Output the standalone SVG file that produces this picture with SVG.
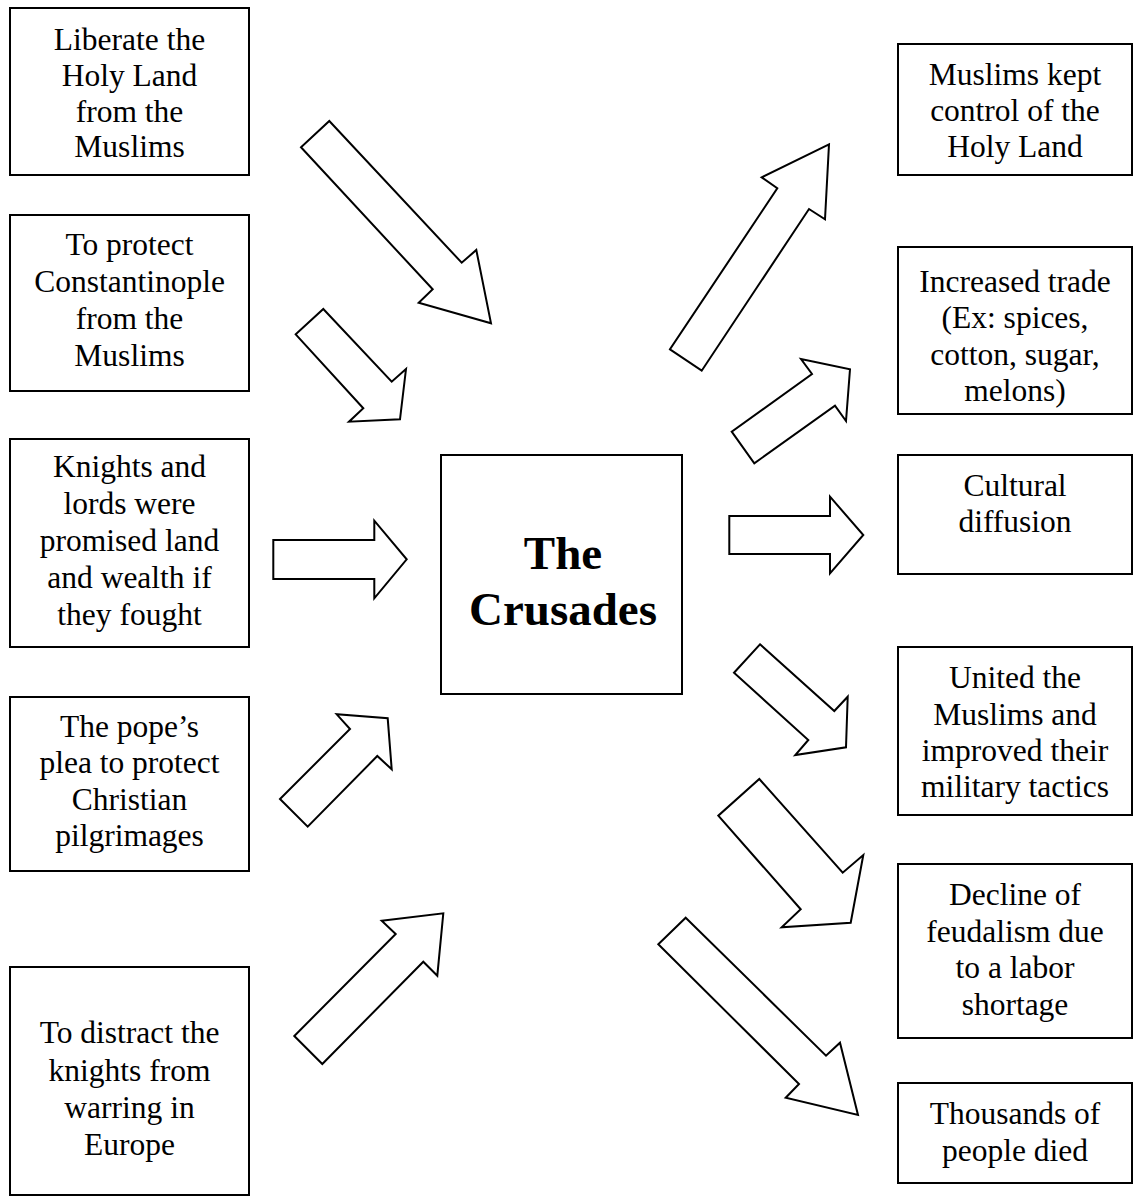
<svg xmlns="http://www.w3.org/2000/svg" width="1133" height="1197" viewBox="0 0 1133 1197">
<style>
.box{fill:#fff;stroke:#000;stroke-width:2}
.arr{fill:#fff;stroke:#000;stroke-width:2;stroke-linejoin:miter}
text{font-family:"Liberation Serif","Times New Roman",serif;font-size:31.5px;fill:#000;text-anchor:middle}
.title{font-size:47px;font-weight:bold}
</style>
<rect width="1133" height="1197" fill="#fff"/>
<g id="connectors">
<polygon class="arr" points="329.3,121 461.7,262.7 476.3,250 491,323.3 418.7,302.7 432.7,289.3 301,147.3"/>
<polygon class="arr" points="323.3,309 391.7,381.7 406,369 400,419.3 349,421.7 363.3,408.3 295.7,334.3"/>
<polygon class="arr" points="273.3,540 374.3,540 374.3,520.7 406.7,559.3 374.3,598.3 374.3,579 273.3,579"/>
<polygon class="arr" points="280,799 307.7,826.7 377.3,756 391.7,769.3 387.7,718.3 336.7,714.3 350,729"/>
<polygon class="arr" points="294.3,1036 322.3,1064 423.3,961.7 437.3,975.7 443.3,913.3 381.7,920.7 395.7,934"/>
<polygon class="arr" points="670,349.3 701.7,370.7 809,209 825,219.3 829,144.3 761.7,177.3 777.3,188.3"/>
<polygon class="arr" points="731.7,431.7 754.3,463.3 835,405.7 846,421 850,369.3 801,359 812,374"/>
<polygon class="arr" points="729.3,516 830,516 830,496.7 863.3,535 830,573.3 830,554 729.3,554"/>
<polygon class="arr" points="760,644.3 834.3,711 847.7,696.7 846,747.3 795.3,755 808.3,740 734,672.7"/>
<polygon class="arr" points="759.3,779 842.7,872.7 863.3,855 850.7,922.7 781.7,927.3 800.7,909.3 718.3,815.7"/>
<polygon class="arr" points="685.7,917.7 826,1055.7 840,1042.7 858,1115 785.7,1097.7 799,1084 658.3,944.3"/>
</g>
<g id="cause1"><rect class="box" x="10" y="8" width="239" height="167"/>
<text x="129.5" y="50">Liberate the</text><text x="129.5" y="86">Holy Land</text><text x="129.5" y="121.5">from the</text><text x="129.5" y="157">Muslims</text></g>
<g id="cause2"><rect class="box" x="10" y="215" width="239" height="176"/>
<text x="129.5" y="255">To protect</text><text x="129.5" y="292">Constantinople</text><text x="129.5" y="329">from the</text><text x="129.5" y="366">Muslims</text></g>
<g id="cause3"><rect class="box" x="10" y="439" width="239" height="208"/>
<text x="129.5" y="477">Knights and</text><text x="129.5" y="514">lords were</text><text x="129.5" y="551">promised land</text><text x="129.5" y="588">and wealth if</text><text x="129.5" y="625">they fought</text></g>
<g id="cause4"><rect class="box" x="10" y="697" width="239" height="174"/>
<text x="129.5" y="737">The pope’s</text><text x="129.5" y="773">plea to protect</text><text x="129.5" y="810">Christian</text><text x="129.5" y="846">pilgrimages</text></g>
<g id="cause5"><rect class="box" x="10" y="967" width="239" height="228"/>
<text x="129.5" y="1043">To distract the</text><text x="129.5" y="1081">knights from</text><text x="129.5" y="1118">warring in</text><text x="129.5" y="1155">Europe</text></g>
<g id="crusades"><rect class="box" x="441" y="455" width="241" height="239"/>
<text class="title" x="563" y="569">The</text><text class="title" x="563" y="625">Crusades</text></g>
<g id="effect1"><rect class="box" x="898" y="44" width="234" height="131"/>
<text x="1015" y="85">Muslims kept</text><text x="1015" y="121">control of the</text><text x="1015" y="157">Holy Land</text></g>
<g id="effect2"><rect class="box" x="898" y="247" width="234" height="167"/>
<text x="1015" y="292">Increased trade</text><text x="1015" y="328">(Ex: spices,</text><text x="1015" y="365">cotton, sugar,</text><text x="1015" y="401">melons)</text></g>
<g id="effect3"><rect class="box" x="898" y="455" width="234" height="119"/>
<text x="1015" y="496">Cultural</text><text x="1015" y="532">diffusion</text></g>
<g id="effect4"><rect class="box" x="898" y="647" width="234" height="168"/>
<text x="1015" y="688">United the</text><text x="1015" y="725">Muslims and</text><text x="1015" y="761">improved their</text><text x="1015" y="797">military tactics</text></g>
<g id="effect5"><rect class="box" x="898" y="864" width="234" height="174"/>
<text x="1015" y="905">Decline of</text><text x="1015" y="942">feudalism due</text><text x="1015" y="978">to a labor</text><text x="1015" y="1015">shortage</text></g>
<g id="effect6"><rect class="box" x="898" y="1083" width="234" height="100"/>
<text x="1015" y="1124">Thousands of</text><text x="1015" y="1161">people died</text></g>
</svg>
